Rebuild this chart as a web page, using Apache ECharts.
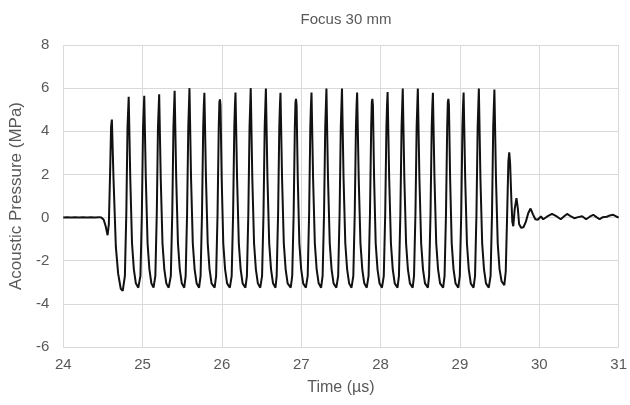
<!DOCTYPE html>
<html>
<head>
<meta charset="utf-8">
<script src="https://cdn.jsdelivr.net/npm/echarts@6/dist/echarts.min.js"></script>
<style>html,body{margin:0;padding:0;background:#fff}#c{width:630px;height:405px}</style>
</head>
<body>
<div id="c"></div>
<script>
var chartTitle = 'Focus 30 mm';
var xName = 'Time (\u00b5s)';
var yName = 'Acoustic Pressure (MPa)';
var xTicks = [24, 25, 26, 27, 28, 29, 30, 31];
var yTicks = [-6, -4, -2, 0, 2, 4, 6, 8];

// waveform: [time (µs), pressure (MPa)]
var preBurst = [
  [24.00,0.00],[24.05,0.02],[24.10,0.00],[24.15,0.02],[24.20,0.00],[24.25,0.02],[24.30,0.00],[24.35,0.02],[24.40,0.00],[24.45,0.02],
  [24.48,0.00],[24.51,-0.10],[24.535,-0.40],[24.559,-0.82],[24.575,-0.30],[24.59,2.00],[24.603,4.20],[24.613,4.54],
  [24.634,1.75],[24.663,-1.35],[24.692,-2.60],[24.725,-3.30],[24.75,-3.40]
];
var burst = [
  [24.777,-2.7],[24.795,0.2],[24.81,4.2],[24.825,5.6],[24.845,1.8],[24.867,-1.2],[24.89,-2.4],[24.915,-3.05],[24.946,-3.25],
  [24.973,-2.7],[24.991,0.2],[25.006,4.2],[25.021,5.65],[25.041,1.8],[25.063,-1.2],[25.086,-2.4],[25.111,-3.05],[25.138,-3.25],
  [25.161,-2.7],[25.179,0.2],[25.194,4.2],[25.209,5.72],[25.229,1.8],[25.251,-1.2],[25.274,-2.4],[25.299,-3.05],[25.329,-3.25],
  [25.356,-2.7],[25.374,0.2],[25.389,4.2],[25.404,5.88],[25.424,1.8],[25.446,-1.2],[25.469,-2.4],[25.494,-3.05],[25.525,-3.25],
  [25.543,-2.7],[25.561,0.2],[25.576,4.2],[25.584,5.15],[25.591,6.0],[25.611,1.8],[25.633,-1.2],[25.656,-2.4],[25.681,-3.05],[25.712,-3.25],
  [25.731,-2.7],[25.749,0.2],[25.764,4.2],[25.772,5.2],[25.779,5.78],[25.799,1.8],[25.821,-1.2],[25.844,-2.4],[25.869,-3.05],[25.908,-3.25],
  [25.927,-2.7],[25.945,0.2],[25.96,4.2],[25.968,5.35],[25.975,5.48],[25.982,5.2],[25.997,1.8],[26.017,-1.2],[26.04,-2.4],[26.065,-3.05],[26.1,-3.25],
  [26.123,-2.7],[26.141,0.2],[26.156,4.2],[26.164,5.2],[26.171,5.8],[26.191,1.8],[26.213,-1.2],[26.236,-2.4],[26.261,-3.05],[26.296,-3.25],
  [26.315,-2.7],[26.333,0.2],[26.348,4.2],[26.356,5.15],[26.363,6.0],[26.383,1.8],[26.405,-1.2],[26.428,-2.4],[26.453,-3.05],[26.483,-3.25],
  [26.506,-2.7],[26.524,0.2],[26.539,4.2],[26.547,5.15],[26.554,5.98],[26.574,1.8],[26.596,-1.2],[26.619,-2.4],[26.644,-3.05],[26.675,-3.25],
  [26.69,-2.7],[26.708,0.2],[26.723,4.2],[26.731,5.2],[26.738,5.78],[26.758,1.8],[26.78,-1.2],[26.803,-2.4],[26.828,-3.05],[26.867,-3.25],
  [26.886,-2.7],[26.904,0.2],[26.919,4.2],[26.927,5.35],[26.934,5.5],[26.941,5.2],[26.956,1.8],[26.976,-1.2],[26.999,-2.4],[27.024,-3.05],[27.058,-3.25],
  [27.081,-2.7],[27.099,0.2],[27.114,4.2],[27.122,5.2],[27.129,5.8],[27.149,1.8],[27.171,-1.2],[27.194,-2.4],[27.219,-3.05],[27.25,-3.25],
  [27.269,-2.7],[27.287,0.2],[27.302,4.2],[27.31,5.15],[27.317,5.98],[27.337,1.8],[27.359,-1.2],[27.382,-2.4],[27.407,-3.05],[27.442,-3.25],
  [27.465,-2.7],[27.483,0.2],[27.498,4.2],[27.506,5.15],[27.513,5.98],[27.533,1.8],[27.555,-1.2],[27.578,-2.4],[27.603,-3.05],[27.633,-3.25],
  [27.656,-2.7],[27.674,0.2],[27.689,4.2],[27.697,5.2],[27.704,5.8],[27.724,1.8],[27.746,-1.2],[27.769,-2.4],[27.794,-3.05],[27.825,-3.25],
  [27.848,-2.7],[27.866,0.2],[27.881,4.2],[27.889,5.35],[27.896,5.5],[27.903,5.2],[27.918,1.8],[27.938,-1.2],[27.961,-2.4],[27.986,-3.05],[28.017,-3.25],
  [28.04,-2.7],[28.058,0.2],[28.073,4.2],[28.081,5.2],[28.088,5.82],[28.108,1.8],[28.13,-1.2],[28.153,-2.4],[28.178,-3.05],[28.213,-3.25],
  [28.231,-2.7],[28.249,0.2],[28.264,4.2],[28.272,5.15],[28.279,5.98],[28.299,1.8],[28.321,-1.2],[28.344,-2.4],[28.369,-3.05],[28.404,-3.25],
  [28.421,-2.7],[28.439,0.2],[28.454,4.2],[28.462,5.15],[28.469,5.98],[28.489,1.8],[28.511,-1.2],[28.534,-2.4],[28.559,-3.05],[28.596,-3.25],
  [28.611,-2.7],[28.629,0.2],[28.644,4.2],[28.652,5.2],[28.659,5.78],[28.679,1.8],[28.701,-1.2],[28.724,-2.4],[28.749,-3.05],[28.788,-3.25],
  [28.806,-2.7],[28.824,0.2],[28.839,4.2],[28.847,5.35],[28.854,5.5],[28.861,5.2],[28.876,1.8],[28.896,-1.2],[28.919,-2.4],[28.944,-3.05],[28.979,-3.25],
  [28.998,-2.7],[29.016,0.2],[29.031,4.2],[29.039,5.2],[29.046,5.8],[29.066,1.8],[29.088,-1.2],[29.111,-2.4],[29.136,-3.05],[29.171,-3.25],
  [29.19,-2.7],[29.208,0.2],[29.223,4.2],[29.231,5.15],[29.238,5.98],[29.258,1.8],[29.28,-1.2],[29.303,-2.4],[29.328,-3.05],[29.363,-3.25],
  [29.386,-2.7],[29.404,0.2],[29.419,4.2],[29.427,5.15],[29.434,5.94],[29.454,1.8],[29.476,-1.2],[29.499,-2.4],[29.524,-2.95],[29.559,-3.13]
];
var ringDown = [
  [29.577,-2.5],[29.595,0.2],[29.61,2.6],[29.621,3.02],[29.632,2.5],[29.648,0.8],[29.66,-0.2],[29.672,-0.4],[29.69,0.4],[29.712,0.9],
  [29.73,0.4],[29.745,-0.3],[29.77,-0.47],[29.8,-0.45],[29.83,-0.2],[29.86,0.2],[29.89,0.42],[29.92,0.15],[29.95,-0.08],[29.98,-0.1],
  [30.0,-0.05],[30.02,0.05],[30.05,-0.08],[30.1,0.05],[30.16,0.17],[30.22,0.05],[30.27,-0.08],[30.31,0.05],[30.35,0.17],[30.4,0.05],
  [30.44,-0.03],[30.49,0.02],[30.54,0.06],[30.59,-0.08],[30.64,0.05],[30.68,0.13],[30.72,0.02],[30.76,-0.08],[30.8,0.02],[30.85,0.04],
  [30.89,0.1],[30.93,0.13],[30.97,0.05],[31.0,0.0]
];

var waveform = preBurst.concat(burst, ringDown);
var txt = '#595959';
var font = '"Liberation Sans", Arial, sans-serif';
var chart = echarts.init(document.getElementById('c'), null, {renderer: 'canvas'});
chart.setOption({
  animation: false,
  backgroundColor: '#fff',
  title: {
    text: chartTitle, left: 341, top: 7, textAlign: 'center',
    textStyle: {color: txt, fontSize: 15, fontWeight: 'normal', fontFamily: font}
  },
  grid: {left: 62, right: 8, top: 45, bottom: 58, containLabel: false},
  xAxis: {
    type: 'value', min: xTicks[0], max: xTicks[xTicks.length - 1], interval: 1,
    name: xName, nameLocation: 'middle', nameGap: 33,
    nameTextStyle: {color: txt, fontSize: 16, fontFamily: font},
    axisLine: {show: false}, axisTick: {show: false},
    axisLabel: {color: txt, fontSize: 15, fontFamily: font, margin: 10},
    splitLine: {show: true, lineStyle: {color: '#d9d9d9', width: 1}}
  },
  yAxis: {
    type: 'value', min: yTicks[0], max: yTicks[yTicks.length - 1], interval: 2,
    name: yName, nameLocation: 'middle', nameGap: 33,
    nameTextStyle: {color: txt, fontSize: 17, fontFamily: font},
    axisLine: {show: false}, axisTick: {show: false},
    axisLabel: {color: txt, fontSize: 15, fontFamily: font, margin: 14},
    splitLine: {show: true, lineStyle: {color: '#d9d9d9', width: 1}}
  },
  series: [{
    type: 'line', data: waveform, showSymbol: false, symbol: 'none',
    lineStyle: {color: '#111', width: 2}, clip: false
  }]
});
</script>
</body>
</html>
